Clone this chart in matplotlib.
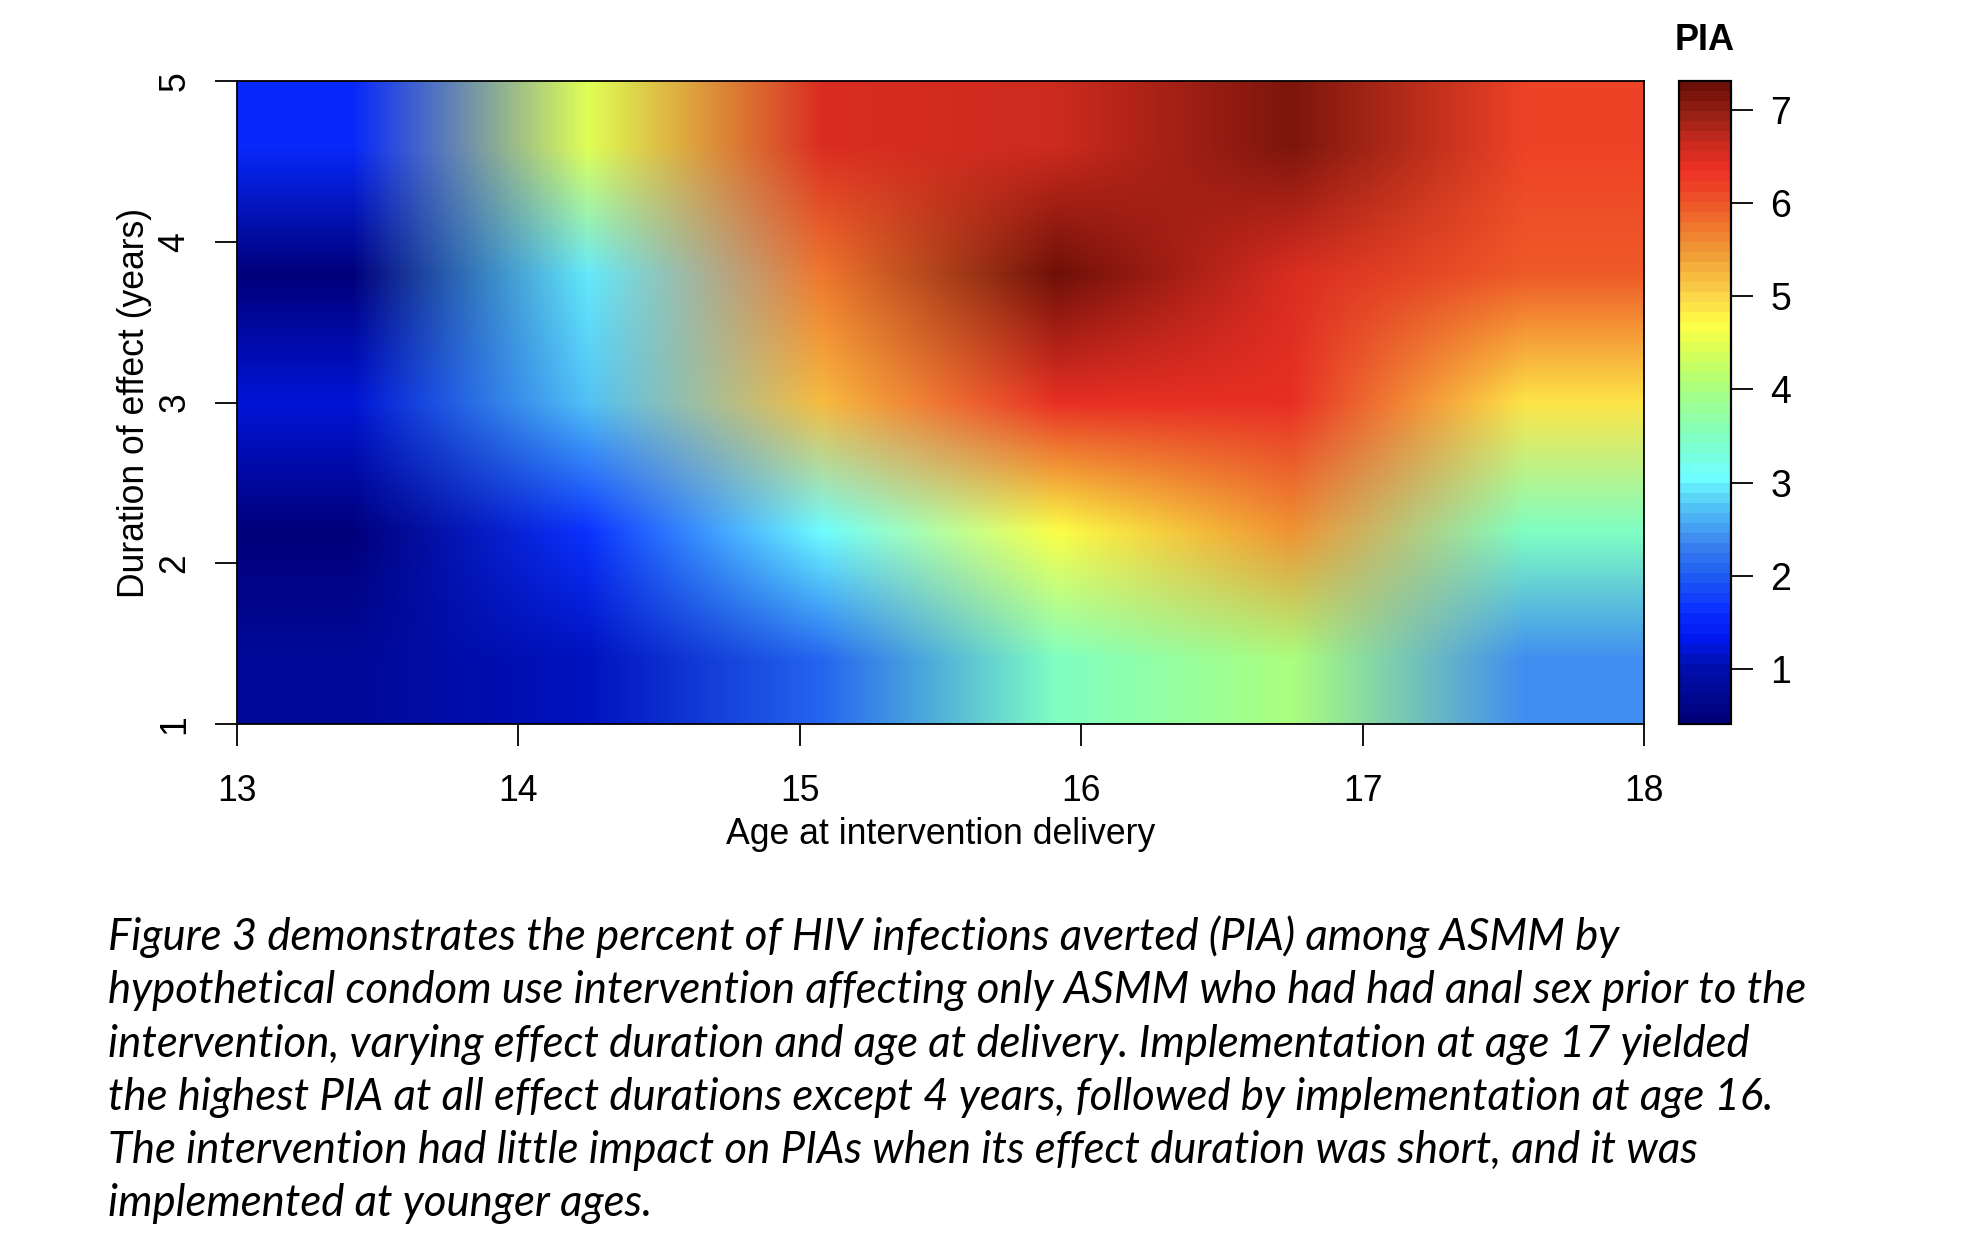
import numpy as np
import matplotlib
matplotlib.use('Agg')
import matplotlib.pyplot as plt
from matplotlib.colors import LinearSegmentedColormap

W, H = 1966, 1248

# PIA, one row per duration band (bottom to top), one column per age band
pia_row1 = [0.80, 1.10, 2.10, 3.50, 4.00, 2.40]
pia_row2 = [0.50, 1.70, 3.00, 4.70, 5.55, 3.50]
pia_row3 = [1.20, 2.70, 5.20, 6.35, 6.40, 4.85]
pia_row4 = [0.50, 2.90, 5.70, 7.30, 6.55, 6.00]
pia_row5 = [1.50, 4.40, 6.55, 6.65, 7.20, 6.20]

age_ticks = [13, 14, 15, 16, 17, 18]
duration_ticks = [1, 2, 3, 4, 5]
cbar_ticks = [1, 2, 3, 4, 5, 6, 7]
vmin, vmax = 0.41, 7.31

caption = ("Figure 3 demonstrates the percent of HIV infections averted (PIA) among ASMM by\n"
           "hypothetical condom use intervention affecting only ASMM who had had anal sex prior to the\n"
           "intervention, varying effect duration and age at delivery. Implementation at age 17 yielded\n"
           "the highest PIA at all effect durations except 4 years, followed by implementation at age 16.\n"
           "The intervention had little impact on PIAs when its effect duration was short, and it was\n"
           "implemented at younger ages.")

Z = np.array([pia_row1, pia_row2, pia_row3, pia_row4, pia_row5])

# colour stops: PIA value, colour
ramp_values = [0.41, 1.00, 1.30, 1.60, 2.00, 2.30, 2.70, 3.05, 3.50, 4.00, 4.30, 4.71,
               5.00, 5.50, 6.00, 6.38, 6.70, 7.00, 7.31]
ramp_colors = ['#00007a', '#0010b0', '#0018f0', '#0a30ff', '#2060f0', '#3b80f0', '#50c0f5',
               '#6fffff', '#80ffc0', '#a8ff80', '#ccff60', '#ffff45', '#fcd84a', '#f09a35',
               '#ee5a28', '#ee3026', '#c62a1c', '#962015', '#6e1008']
ramp = [((v - vmin) / (vmax - vmin), c) for v, c in zip(ramp_values, ramp_colors)]
cmap = LinearSegmentedColormap.from_list('pia', ramp, N=64)

plt.rcParams['font.family'] = ['Liberation Sans', 'DejaVu Sans']
fig = plt.figure(figsize=(W / 100, H / 100), dpi=100)

ax = fig.add_axes([237 / W, 1 - 724 / H, (1644 - 237) / W, (724 - 81) / H])
# colours are blended, not the values: that is what gives the greyish transitions
im = ax.imshow(Z, origin='lower', extent=(13, 18, 1, 5), aspect='auto', cmap=cmap,
               vmin=vmin, vmax=vmax, interpolation='bilinear', interpolation_stage='rgba')
ax.set_xticks(age_ticks)
ax.set_yticks(duration_ticks)
ax.tick_params(length=16, width=1.3, labelsize=25.6)
ax.tick_params(axis='x', pad=20)
ax.tick_params(axis='y', labelrotation=90, pad=16)
for t in ax.get_yticklabels():
    t.set_va('center')
for s in ax.spines.values():
    s.set_linewidth(1.3)
ax.set_xlabel('Age at intervention delivery', fontsize=25.7, labelpad=5.5)
ax.set_ylabel('Duration of effect (years)', fontsize=25.6, labelpad=4)

cax = fig.add_axes([1679 / W, 1 - 724 / H, (1731 - 1679) / W, (724 - 81) / H])
cb = fig.colorbar(im, cax=cax)
cb.set_ticks(cbar_ticks)
cb.ax.tick_params(length=16, width=1.3, labelsize=27, pad=12.5)
cb.outline.set_linewidth(1.6)

fig.text(1705 / W, 1 - 40 / H, 'PIA', fontsize=26, fontweight='bold', ha='center', va='center')

fig.text(108 / W, 1 - 915.5 / H, caption, family=['Lato', 'DejaVu Sans'], style='italic',
         fontsize=31.5, ha='left', va='top', linespacing=1.37)

fig.savefig('out.png', dpi=100)
